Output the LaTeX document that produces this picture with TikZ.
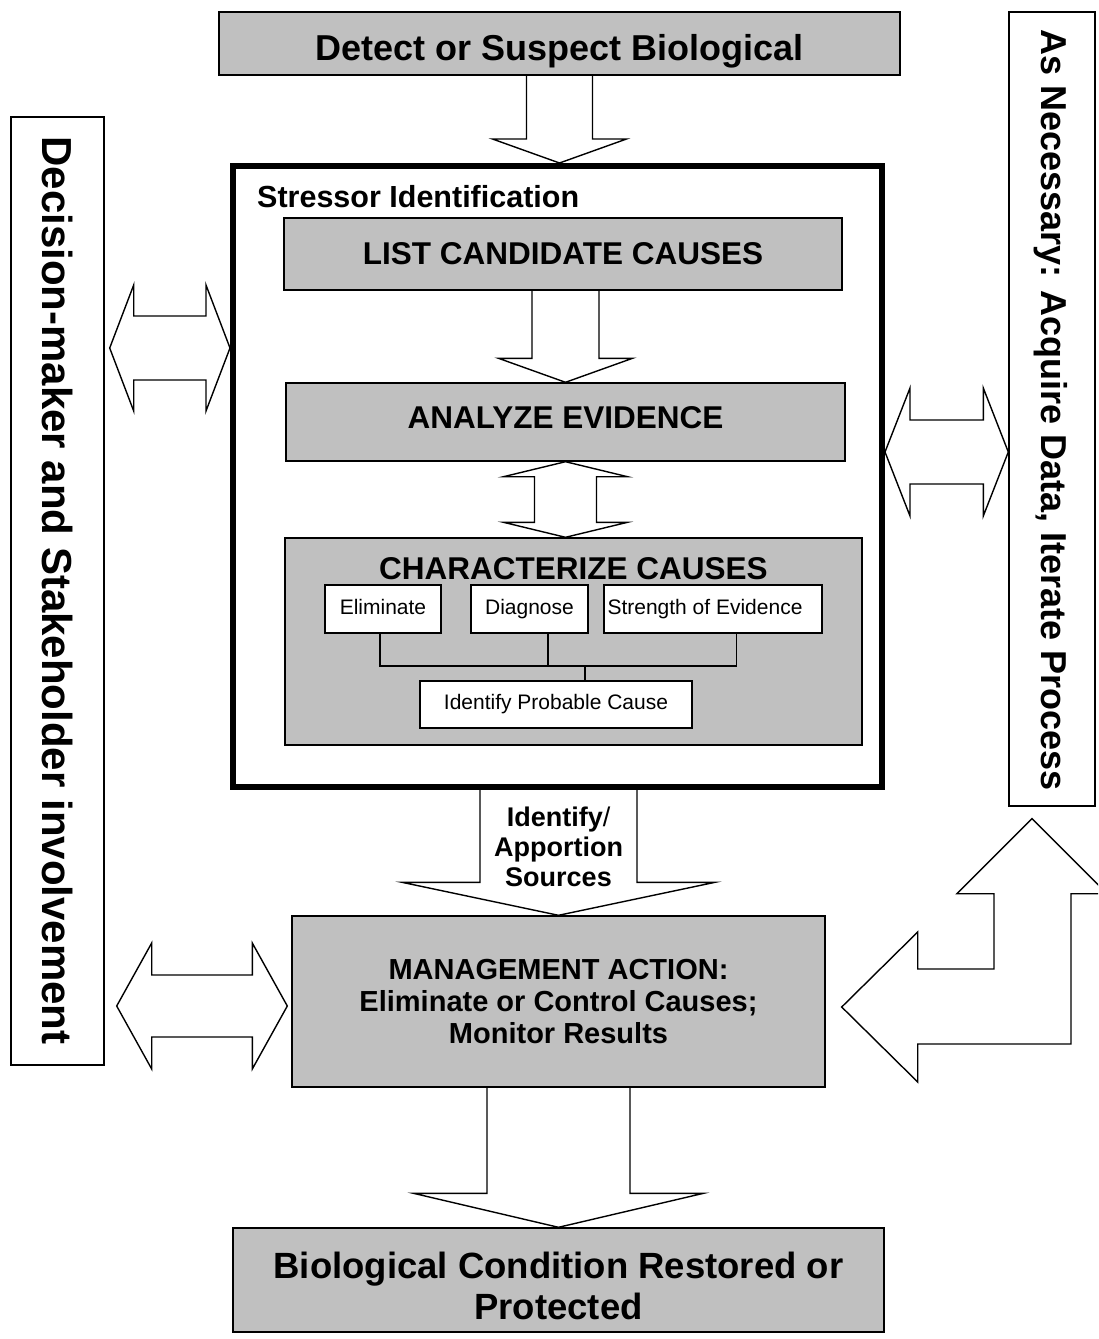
\documentclass[tikz,border=0pt]{standalone}
\usepackage{fontspec}
\setmainfont{Liberation Sans}
\usetikzlibrary{calc}
\definecolor{boxgray}{RGB}{192,192,192}

\newcommand{\fsz}[2]{\fontsize{#1}{#2}\selectfont}

% block arrow pointing down: shaft starts at the y of #1, tip at #2
% #3 shaft half width, #4 head half width, #5 head length
\newcommand{\downblock}[5]{%
  \draw[blockarrow] let \p1=(#1), \p2=(#2) in
    (\x2-#3,\y1) -- (\x2-#3,\y2+#5) -- (\x2-#4,\y2+#5) -- (\x2,\y2)
    -- (\x2+#4,\y2+#5) -- (\x2+#3,\y2+#5) -- (\x2+#3,\y1);}

% vertical double block arrow between top tip #1 and bottom tip #2
\newcommand{\vdoubleblock}[5]{%
  \draw[blockarrow] let \p1=(#1), \p2=(#2) in
    (\x1,\y1) -- (\x1+#4,\y1-#5) -- (\x1+#3,\y1-#5) -- (\x1+#3,\y2+#5)
    -- (\x1+#4,\y2+#5) -- (\x1,\y2) -- (\x1-#4,\y2+#5) -- (\x1-#3,\y2+#5)
    -- (\x1-#3,\y1-#5) -- (\x1-#4,\y1-#5) -- cycle;}

% horizontal double block arrow between left tip #1 and right tip #2
\newcommand{\hdoubleblock}[5]{%
  \draw[blockarrow] let \p1=(#1), \p2=(#2) in
    (\x1,\y1) -- (\x1+#5,\y1+#4) -- (\x1+#5,\y1+#3) -- (\x2-#5,\y1+#3)
    -- (\x2-#5,\y1+#4) -- (\x2,\y1) -- (\x2-#5,\y1-#4) -- (\x2-#5,\y1-#3)
    -- (\x1+#5,\y1-#3) -- (\x1+#5,\y1-#4) -- cycle;}

\tikzset{
  box/.style={draw, line width=1.4pt, inner sep=0pt},
  graybox/.style={box, fill=boxgray},
  whitebox/.style={box, fill=white},
  blockarrow/.style={draw, line width=1.4pt, line join=miter},
  txt/.style={inner sep=0pt},
  stepfont/.style={font=\bfseries\fsz{31.5}{36}},
  subfont/.style={font=\fsz{21}{25}, text height=15pt, text depth=4.5pt},
  link/.style={draw, line width=1.4pt},
}

\begin{document}
\begin{tikzpicture}[x=1pt,y=-1pt]
\useasboundingbox (0,0) rectangle (1098,1339);
\clip (0,0) rectangle (1098,1339);

% ---------- boxes ----------
\node[graybox, minimum width=681pt, minimum height=63pt, text height=33pt,
      text depth=0pt, font=\bfseries\fsz{36}{40}] (top) at (559.5,43.5)
      {Detect or Suspect Biological};

\node[draw, line width=6pt, inner sep=0pt, minimum width=649pt,
      minimum height=621pt] (si) at (557.5,476.5) {};
\node[txt, anchor=base west, font=\bfseries\fsz{30.5}{34}] (silabel)
      at (257,207) {Stressor Identification};

\node[graybox, stepfont, minimum width=558pt, minimum height=72pt] (lc)
      at (563,254) {LIST CANDIDATE CAUSES};
\node[graybox, stepfont, minimum width=559pt, minimum height=78pt,
      text height=22pt, text depth=10pt] (an) at (565.5,422) {ANALYZE EVIDENCE};

\node[graybox, minimum width=577pt, minimum height=207pt] (cc) at (573.5,641.5) {};
\node[txt, stepfont, anchor=base] (cctitle) at (573.5,579) {CHARACTERIZE CAUSES};

\node[whitebox, subfont, minimum width=116pt, minimum height=48pt] (el)
      at (383,609) {Eliminate};
\node[whitebox, subfont, minimum width=117pt, minimum height=48pt] (dg)
      at (529.5,609) {Diagnose};
\node[whitebox, subfont, minimum width=218pt, minimum height=48pt] (se)
      at (713,609) {\kern-16pt Strength of Evidence};
\node[whitebox, subfont, minimum width=272pt, minimum height=47pt] (ip)
      at (556,704.5) {Identify Probable Cause};

\node[graybox, minimum width=533pt, minimum height=171pt] (mg) at (558.5,1001.5) {};
\node[txt, align=center, font=\bfseries\fsz{29}{32}] (mgtext) at (558.5,1001.5)
      {MANAGEMENT ACTION:\\Eliminate or Control Causes;\\Monitor Results};

\node[graybox, minimum width=651pt, minimum height=104pt] (bc) at (558.5,1280) {};
\node[txt, align=center, font=\bfseries\fsz{36.5}{41}] (bctext) at (558.5,1285.5)
      {Biological Condition Restored or\\Protected};

\node[whitebox, minimum width=93pt, minimum height=948pt] (dm) at (57.5,591) {};
\node[txt, rotate=-90, font=\bfseries\fsz{42}{46}] (dmtext) at (57.5,590.5)
      {Decision-maker and Stakeholder involvement};

\node[whitebox, minimum width=86pt, minimum height=794pt] (ra) at (1052,409) {};
\node[txt, rotate=-90, font=\bfseries\fsz{36}{40}] (ratext) at (1051,410)
      {As Necessary: Acquire Data, Iterate Process};

% ---------- links inside "characterize causes" ----------
\coordinate (busL) at ([xshift=-3pt]el.south |- 0,666);
\coordinate (busR) at ([xshift=23.5pt]se.south |- 0,666);
\draw[link] ([xshift=-3pt]el.south) -- (busL) -- (busR) -- ([xshift=23.5pt]se.south);
\draw[link] ([xshift=18.5pt]dg.south) -- ([xshift=18.5pt]dg.south |- busL);
\draw[link] ([xshift=29pt]ip.north |- busL) -- ([xshift=29pt]ip.north);

% ---------- block arrows ----------
\path (top.south |- si.north) coordinate (t1tip);
\downblock{top.south}{t1tip}{33pt}{67pt}{24pt}
\downblock{lc.south}{an.north}{33.5pt}{67pt}{24pt}
\path (an.south |- cc.north) coordinate (v2tip);
\vdoubleblock{an.south}{v2tip}{31pt}{62pt}{15pt}

\downblock{si.south}{mg.north}{78.5pt}{156.5pt}{33pt}
\node[txt, align=center, font=\bfseries\fsz{27}{30}] (iatext) at (558.5,847)
      {Identify{\mdseries/}\\Apportion\\Sources};
\downblock{mg.south}{bc.north}{71.5pt}{145pt}{34pt}

\path (dm.east |- 0,348) ++(5,0) coordinate (ld1);
\path (si.west |- 0,348) coordinate (ld2);
\hdoubleblock{ld1}{ld2}{32pt}{63pt}{24pt}

\path (si.east |- 0,452) coordinate (rd1);
\path (ra.west |- 0,452) coordinate (rd2);
\hdoubleblock{rd1}{rd2}{32pt}{64pt}{25pt}

\path (dm.east |- 0,1006) ++(12,0) coordinate (ld3);
\path (mg.west |- 0,1006) ++(-4,0) coordinate (ld4);
\hdoubleblock{ld3}{ld4}{31pt}{63pt}{35pt}

% bent return arrow: up to the right panel, left into management action
\path (ra.south) ++(-20,12) coordinate (bu);
\path (mg.east |- 0,1007) ++(16,0) coordinate (bl);
\draw[blockarrow] let \p1=(bu), \p2=(bl) in
  (\x1,\y1) -- (\x1+75pt,\y1-75pt) -- (\x1+39pt,\y1-75pt) -- (\x1+39pt,\y2-37pt)
  -- (\x2+76pt,\y2-37pt) -- (\x2+76pt,\y2-75pt) -- (\x2,\y2)
  -- (\x2+76pt,\y2+75pt) -- (\x2+76pt,\y2+38pt) -- (\x1-38pt,\y2+38pt)
  -- (\x1-38pt,\y1-75pt) -- (\x1-75pt,\y1-75pt) -- cycle;
\end{tikzpicture}
\end{document}
